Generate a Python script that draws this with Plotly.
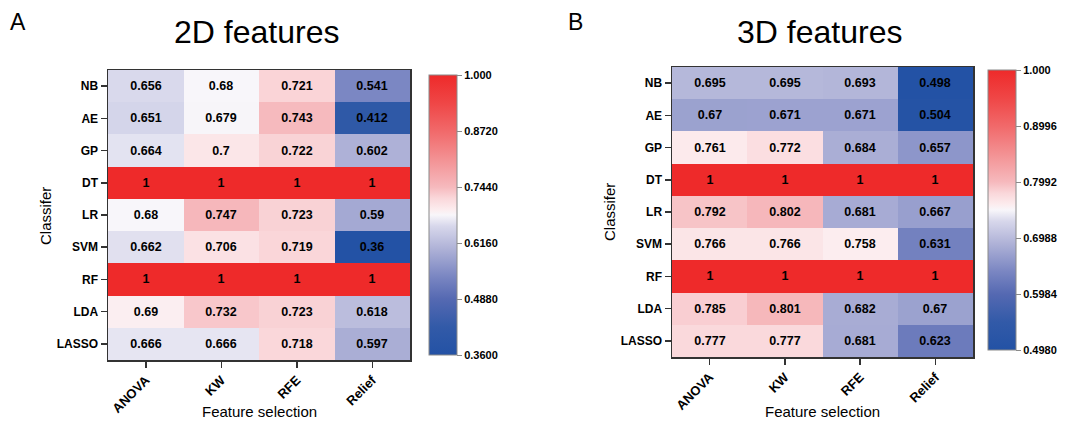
import plotly.graph_objects as go

classifiers = ["NB", "AE", "GP", "DT", "LR", "SVM", "RF", "LDA", "LASSO"]
methods = ["ANOVA", "KW", "RFE", "Relief"]

vals_2d = [
    [0.656, 0.68, 0.721, 0.541],
    [0.651, 0.679, 0.743, 0.412],
    [0.664, 0.7, 0.722, 0.602],
    [1, 1, 1, 1],
    [0.68, 0.747, 0.723, 0.59],
    [0.662, 0.706, 0.719, 0.36],
    [1, 1, 1, 1],
    [0.69, 0.732, 0.723, 0.618],
    [0.666, 0.666, 0.718, 0.597],
]
vals_3d = [
    [0.695, 0.695, 0.693, 0.498],
    [0.67, 0.671, 0.671, 0.504],
    [0.761, 0.772, 0.684, 0.657],
    [1, 1, 1, 1],
    [0.792, 0.802, 0.681, 0.667],
    [0.766, 0.766, 0.758, 0.631],
    [1, 1, 1, 1],
    [0.785, 0.801, 0.682, 0.67],
    [0.777, 0.777, 0.681, 0.623],
]

cb_ticks_2d = [0.36, 0.488, 0.616, 0.744, 0.872, 1.0]
cb_labels_2d = ["0.3600", "0.4880", "0.6160", "0.7440", "0.8720", "1.000"]
cb_ticks_3d = [0.498, 0.5984, 0.6988, 0.7992, 0.8996, 1.0]
cb_labels_3d = ["0.4980", "0.5984", "0.6988", "0.7992", "0.8996", "1.000"]

W, H = 1065, 421
FONT = "Arial, Liberation Sans, sans-serif"

colorscale = [
    [0.0, "rgb(35,82,165)"],
    [0.1, "rgb(50,90,168)"],
    [0.2, "rgb(85,105,178)"],
    [0.28, "rgb(122,134,194)"],
    [0.38, "rgb(175,178,215)"],
    [0.46, "rgb(215,215,235)"],
    [0.5, "rgb(248,246,250)"],
    [0.52, "rgb(252,236,238)"],
    [0.56, "rgb(250,215,218)"],
    [0.6, "rgb(246,185,189)"],
    [0.7, "rgb(243,145,147)"],
    [0.8, "rgb(241,105,106)"],
    [0.9, "rgb(239,70,70)"],
    [1.0, "rgb(238,42,42)"],
]


def fx(px):
    return px / W


def fy(py):
    return 1 - py / H


def fmt(v):
    return f"{v:g}"


fig = go.Figure()

panels = [
    dict(vals=vals_2d, ticks=cb_ticks_2d, labels=cb_labels_2d, xa="x", ya="y",
         x0=108, x1=410, y0=70, y1=360, cbx=429, cby0=75, cby1=355),
    dict(vals=vals_3d, ticks=cb_ticks_3d, labels=cb_labels_3d, xa="x2", ya="y2",
         x0=672, x1=973, y0=67, y1=357, cbx=988, cby0=70, cby1=350),
]

for i, p in enumerate(panels):
    fig.add_trace(go.Heatmap(
        z=p["vals"], x=methods, y=classifiers,
        text=[[fmt(v) for v in row] for row in p["vals"]],
        texttemplate="<b>%{text}</b>",
        textfont=dict(family=FONT, size=12.5, color="black"),
        colorscale=colorscale, zmin=p["ticks"][0], zmax=p["ticks"][-1],
        xaxis=p["xa"], yaxis=p["ya"], hoverinfo="skip",
        colorbar=dict(
            x=fx(p["cbx"]), xanchor="left", xpad=0, ypad=0,
            y=fy((p["cby0"] + p["cby1"]) / 2), yanchor="middle",
            len=p["cby1"] - p["cby0"], lenmode="pixels",
            thickness=28, thicknessmode="pixels",
            outlinecolor="#8a8a8a", outlinewidth=1,
            tickvals=p["ticks"], ticktext=p["labels"],
            ticks="outside", ticklen=5, tickcolor="#8a8a8a",
            tickfont=dict(family=FONT, size=11, color="black", weight="bold"),
        ),
    ))
    sfx = "" if i == 0 else "2"
    fig.update_layout({
        "xaxis" + sfx: dict(
            domain=[fx(p["x0"]), fx(p["x1"])], anchor="y" + sfx,
            type="category", tickangle=-45, ticks="outside", ticklen=6,
            tickcolor="#333", tickwidth=1.5, showline=True, mirror=True,
            linecolor="#333", linewidth=1.5, showgrid=False, zeroline=False,
            tickfont=dict(family=FONT, size=13, color="black", weight="bold"),
        ),
        "yaxis" + sfx: dict(
            domain=[fy(p["y1"]), fy(p["y0"])], anchor="x" + sfx,
            type="category", autorange="reversed", ticks="outside", ticklen=6,
            tickcolor="#333", tickwidth=1.5, showline=True, mirror=True,
            linecolor="#333", linewidth=1.5, showgrid=False, zeroline=False,
            tickfont=dict(family=FONT, size=12, color="black", weight="bold"),
        ),
    })

annotations = [
    dict(text="A", x=fx(18), y=fy(22), font=dict(size=23)),
    dict(text="B", x=fx(576), y=fy(22), font=dict(size=23)),
    dict(text="2D features", x=fx(256), y=fy(32), font=dict(size=32)),
    dict(text="3D features", x=fx(819), y=fy(32), font=dict(size=32)),
    dict(text="Feature selection", x=fx(259), y=fy(411), font=dict(size=15)),
    dict(text="Feature selection", x=fx(822), y=fy(411), font=dict(size=15)),
    dict(text="Classifer", x=fx(45), y=fy(216), font=dict(size=15), textangle=-90),
    dict(text="Classifer", x=fx(609), y=fy(212), font=dict(size=15), textangle=-90),
]
for a in annotations:
    a.update(xref="paper", yref="paper", showarrow=False,
             xanchor="center", yanchor="middle")
    a["font"].update(family=FONT, color="black")

fig.update_layout(
    width=W, height=H, margin=dict(l=0, r=0, t=0, b=0),
    paper_bgcolor="white", plot_bgcolor="white",
    font=dict(family=FONT, color="black"),
    annotations=annotations,
)

fig.write_html(
    "out.html",
    config={"displayModeBar": False, "staticPlot": True},
    post_script="document.body.style.margin='0';document.body.style.overflow='hidden';",
)
